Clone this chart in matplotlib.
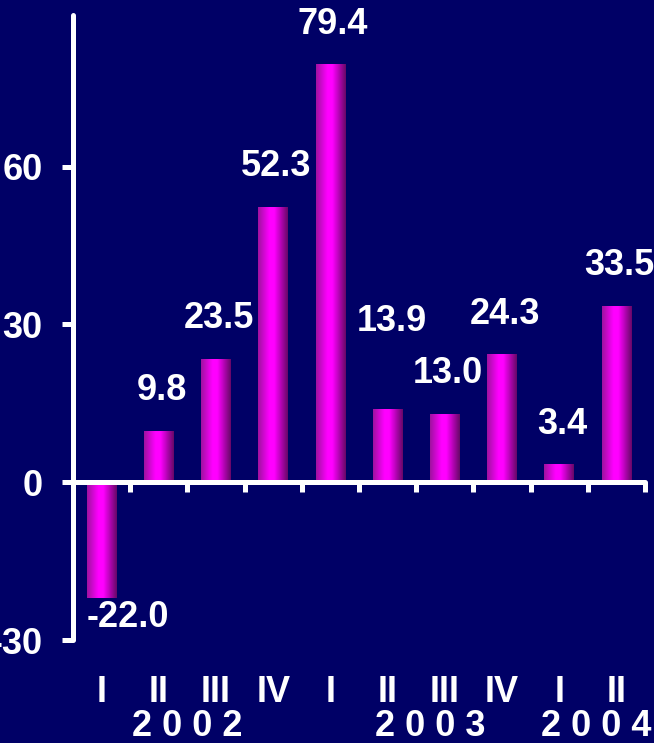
import matplotlib

matplotlib.use("Agg")
import matplotlib.pyplot as plt
import numpy as np
from matplotlib.colors import LinearSegmentedColormap
from matplotlib.transforms import blended_transform_factory

# quarterly growth, 2002 Q1 .. 2004 Q2
quarters = ["I", "II", "III", "IV", "I", "II", "III", "IV", "I", "II"]
values = [-22.0, 9.8, 23.5, 52.3, 79.4, 13.9, 13.0, 24.3, 3.4, 33.5]
years = ["2 0 0 2", "2 0 0 3", "2 0 0 4"]
year_pos = [1.5, 5.75, 8.65]
yticks = [-30, 0, 30, 60]

BG = "#000066"
FG = "white"
FONT = dict(family="Liberation Sans", weight="bold", size=26, color=FG)

# label nudges in points (dx, dy from bar end); most sit just above the bar
label_nudge = {5: (3, 63), 0: (19, -14)}

cyl = LinearSegmentedColormap.from_list(
    "cyl", [(0.0, "#a012a0"), (0.38, "#ff00ff"), (0.55, "#ff00ff"), (1.0, "#680868")]
)

fig = plt.figure(figsize=(6.54, 7.43), dpi=100, facecolor=BG)
ax = fig.add_axes([73 / 654, 103 / 743, 572 / 654, 625 / 743])
ax.set_facecolor(BG)

x = np.arange(len(values))
bars = ax.bar(x, values, width=0.52, color="none", edgecolor="none", zorder=2)

grad = np.linspace(0, 1, 64).reshape(1, -1)
for rect in bars:
    x0, y0 = rect.get_x(), rect.get_y()
    w, h = rect.get_width(), rect.get_height()
    im = ax.imshow(grad, cmap=cyl, aspect="auto", interpolation="bilinear",
                   extent=[x0, x0 + w, min(y0, y0 + h), max(y0, y0 + h)], zorder=2)
    im.set_clip_path(rect)

ax.set_xlim(-0.5, 9.5)
ax.set_ylim(-30, 88.8)

for i, v in enumerate(values):
    dx, dy = label_nudge.get(i, (2, 29))
    if v < 0 and i not in label_nudge:
        dy = -dy
    ax.annotate(f"{v:.1f}", (x[i], v), xytext=(dx, dy), textcoords="offset points",
                ha="center", va="center", **FONT)

# axes: y spine on the left, x spine through zero
for side in ("top", "right"):
    ax.spines[side].set_visible(False)
ax.spines["left"].set_position(("data", -0.5))
ax.spines["bottom"].set_position(("data", 0))
for side in ("left", "bottom"):
    ax.spines[side].set_color(FG)
    ax.spines[side].set_linewidth(3.6)
    ax.spines[side].set_capstyle("round")

ax.set_yticks(yticks)
ax.set_yticklabels([str(t) for t in yticks], fontdict=FONT)
ax.tick_params(axis="y", direction="out", length=8, width=3.6, color=FG, pad=14)

ax.set_xticks(np.arange(len(values)) + 0.5)
ax.set_xticklabels([])
ax.tick_params(axis="x", direction="out", length=7, width=3.6, color=FG)

trans = blended_transform_factory(ax.transData, fig.transFigure)
for i, q in enumerate(quarters):
    ax.text(x[i], 50 / 743, q, transform=trans, ha="center", va="center",
            clip_on=False, **FONT)
for pos, yr in zip(year_pos, years):
    ax.text(pos, 16 / 743, yr, transform=trans, ha="center", va="center",
            clip_on=False, **FONT)

fig.savefig("out.png", dpi=100, facecolor=BG)
